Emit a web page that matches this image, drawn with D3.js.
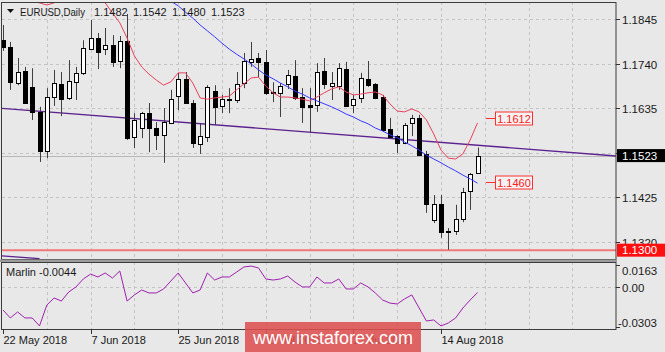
<!DOCTYPE html>
<html>
<head>
<meta charset="utf-8">
<script src="https://cdn.jsdelivr.net/npm/d3@7"></script>
<style>
  body { margin: 0; background: #e8e8e8; }
  svg { display: block; font-family: "Liberation Sans", Arial, sans-serif; }
</style>
</head>
<body>
<svg id="chart" width="665" height="352"></svg>
<script>
// EURUSD daily, 22 May 2018 .. 21 Aug 2018 (66 bars)
const opens  = [1.1795,1.1779,1.1694,1.1722,1.1685,1.1626,1.1534,1.1661,1.1692,1.1659,
                1.1696,1.1718,1.1774,1.1800,1.1774,1.1784,1.1746,1.1793,1.1567,1.1588,
                1.1623,1.1588,1.1572,1.1600,1.1663,1.1704,1.1647,1.1550,1.1567,1.1675,
                1.1640,1.1656,1.1654,1.1694,1.1744,1.1753,1.1744,1.1673,1.1671,1.1692,
                1.1711,1.1661,1.1642,1.1642,1.1722,1.1687,1.1687,1.1727,1.1642,1.1659,
                1.1704,1.1692,1.1661,1.1586,1.1569,1.1553,1.1600,1.1612,1.1527,1.1371,
                1.1409,1.1343,1.1345,1.1374,1.1440,1.1482];
const highs  = [1.1831,1.1791,1.1753,1.1732,1.1729,1.1638,1.1682,1.1725,1.1720,1.1748,
                1.1732,1.1795,1.1843,1.1812,1.1824,1.1807,1.1805,1.1857,1.1623,1.1626,
                1.1647,1.1602,1.1635,1.1678,1.1718,1.1720,1.1654,1.1600,1.1689,1.1689,
                1.1666,1.1682,1.1720,1.1765,1.1791,1.1765,1.1772,1.1696,1.1694,1.1725,
                1.1748,1.1682,1.1682,1.1741,1.1753,1.1720,1.1741,1.1744,1.1666,1.1718,
                1.1746,1.1694,1.1666,1.1612,1.1571,1.1600,1.1619,1.1619,1.1534,1.1430,
                1.1430,1.1352,1.1407,1.1447,1.1482,1.1542];
const lows   = [1.1770,1.1678,1.1689,1.1645,1.1607,1.1508,1.1517,1.1640,1.1616,1.1654,
                1.1654,1.1713,1.1772,1.1727,1.1760,1.1732,1.1729,1.1560,1.1541,1.1564,
                1.1531,1.1536,1.1506,1.1598,1.1630,1.1645,1.1541,1.1527,1.1555,1.1595,
                1.1623,1.1623,1.1647,1.1682,1.1732,1.1708,1.1666,1.1649,1.1614,1.1680,
                1.1654,1.1600,1.1576,1.1626,1.1680,1.1654,1.1678,1.1638,1.1623,1.1647,
                1.1685,1.1656,1.1581,1.1564,1.1529,1.1550,1.1569,1.1522,1.1388,1.1364,
                1.1329,1.1301,1.1336,1.1366,1.1395,1.1480];
const closes = [1.1779,1.1696,1.1720,1.1647,1.1626,1.1534,1.1661,1.1694,1.1656,1.1699,
                1.1718,1.1777,1.1800,1.1767,1.1784,1.1744,1.1793,1.1564,1.1607,1.1623,
                1.1588,1.1572,1.1602,1.1656,1.1704,1.1647,1.1553,1.1569,1.1685,1.1638,
                1.1656,1.1657,1.1692,1.1746,1.1751,1.1744,1.1671,1.1672,1.1687,1.1713,
                1.1659,1.1638,1.1638,1.1720,1.1692,1.1694,1.1729,1.1640,1.1656,1.1706,
                1.1689,1.1659,1.1583,1.1567,1.1553,1.1595,1.1612,1.1524,1.1409,1.1409,
                1.1343,1.1345,1.1374,1.1437,1.1480,1.1523];

// red moving average (partly above the visible range at the start)
const redMA = [1.1918,1.1913,1.1904,1.1895,1.1887,1.1883,1.1878,1.1883,1.1895,1.1904,
               1.1911,1.1913,1.1909,1.1897,1.1883,1.1859,1.1836,1.1800,1.1758,1.1732,
               1.1715,1.1701,1.1689,1.1697,1.1718,1.1718,1.1694,1.1659,1.1656,1.1659,
               1.1661,1.1663,1.1678,1.1692,1.1706,1.1708,1.1687,1.1671,1.1661,1.1661,
               1.1659,1.1656,1.1652,1.1661,1.1671,1.1680,1.1685,1.1673,1.1666,1.1668,
               1.1671,1.1673,1.1666,1.1645,1.1628,1.1626,1.1633,1.1626,1.1607,1.1574,
               1.1536,1.1517,1.1515,1.1527,1.1560,1.1600];
// blue moving average, starts at bar 20
const blueStart = 20;
const blueMA = [1.1930,1.1916,1.1902,1.1887,1.1876,1.1861,1.1847,1.1831,1.1817,1.1803,
                1.1788,1.1774,1.1762,1.1751,1.1739,1.1725,1.1713,1.1704,1.1694,1.1685,
                1.1675,1.1668,1.1659,1.1652,1.1645,1.1638,1.1630,1.1621,1.1614,1.1605,
                1.1598,1.1588,1.1581,1.1572,1.1565,1.1555,1.1546,1.1536,1.1524,1.1515,
                1.1506,1.1496,1.1487,1.1477,1.1468,1.1458];
// Marlin oscillator
const marlin = [-0.0175,-0.0235,-0.0190,-0.0235,-0.0235,-0.0295,-0.0138,-0.0085,-0.0108,-0.0040,
                -0.0002,0.0058,0.0095,0.0073,0.0103,0.0065,0.0118,-0.0108,-0.0062,-0.0025,
                -0.0047,-0.0047,-0.0017,0.0043,0.0103,0.0028,-0.0047,-0.0025,0.0103,0.0050,
                0.0073,0.0073,0.0110,0.0148,0.0155,0.0141,0.0058,0.0050,0.0058,0.0080,
                0.0035,-0.0002,-0.0002,0.0073,0.0028,0.0028,0.0058,-0.0017,-0.0017,0.0028,
                -0.0002,-0.0047,-0.0100,-0.0123,-0.0130,-0.0092,-0.0062,-0.0160,-0.0258,-0.0250,
                -0.0295,-0.0273,-0.0235,-0.0160,-0.0100,-0.0044];

// trend lines: [bar, price] pairs
const trendMain = [[-0.5, 1.1635], [84, 1.1522]];
const trendLow  = [[-0.5, 1.1287], [5, 1.1280]];
const supportLevel = 1.1300;
const lastPrice = 1.1523;
const targetUp = 1.1612, targetDown = 1.1460;

const priceTicks = [1.1845, 1.1740, 1.1635, 1.1530, 1.1425, 1.1320];
const hiddenTick = 1.1530;   // covered by the last-price tag in the original
const oscTicks = [0.0163, 0, -0.0303];
const oscTickLabels = ["0.0163", "0.00", "-0.0303"];
const dateBars = [0, 12, 24, 36, 48, 60];
const dateLabels = ["22 May 2018", "7 Jun 2018", "25 Jun 2018", "11 Jul 2018", "27 Jul 2018", "14 Aug 2018"];
const headerVals = ["1.1482", "1.1542", "1.1480", "1.1523"];

// layout
const W = 665, H = 352;
const axisX = 616;
const main = { top: 2, bottom: 259 };
const osc = { top: 262, bottom: 329 };

const svg = d3.select("#chart");

const x = d3.scaleLinear().domain([0, 65]).range([3, 477.5]);
const y = d3.scaleLinear().domain([1.1320, 1.1845]).range([241.7, 19]);
const yo = d3.scaleLinear().domain([-0.0303, 0.0163]).range([327, 265]);
const px = v => Math.round(v) + 0.5;

svg.append("rect").attr("width", W).attr("height", H).attr("fill", "#e8e8e8");

const defs = svg.append("defs");
defs.append("clipPath").attr("id", "clipMain")
  .append("rect").attr("x", 2).attr("y", main.top).attr("width", axisX - 2).attr("height", main.bottom - main.top);
defs.append("clipPath").attr("id", "clipOsc")
  .append("rect").attr("x", 2).attr("y", osc.top).attr("width", axisX - 2).attr("height", osc.bottom - osc.top);

// grid
const grid = svg.append("g").attr("stroke", "#c4c4c4").attr("stroke-dasharray", "3,3").attr("stroke-width", 1);
d3.range(0, 96, 6).map(x).filter(v => v < axisX && v > 4).forEach(v => {
  grid.append("line").attr("x1", px(v)).attr("x2", px(v)).attr("y1", main.top).attr("y2", main.bottom);
  grid.append("line").attr("x1", px(v)).attr("x2", px(v)).attr("y1", osc.top).attr("y2", osc.bottom);
});
priceTicks.forEach(p => {
  grid.append("line").attr("x1", 2).attr("x2", axisX).attr("y1", px(y(p))).attr("y2", px(y(p)));
});
grid.append("line").attr("x1", 2).attr("x2", axisX).attr("y1", px(yo(0))).attr("y2", px(yo(0)));

// main panel content
const gMain = svg.append("g").attr("clip-path", "url(#clipMain)");

// bid line
gMain.append("line").attr("x1", 2).attr("x2", axisX)
  .attr("y1", px(y(lastPrice))).attr("y2", px(y(lastPrice)))
  .attr("stroke", "#b8b8b8").attr("stroke-width", 1);

// support line
gMain.append("line").attr("x1", 2).attr("x2", axisX)
  .attr("y1", y(supportLevel)).attr("y2", y(supportLevel))
  .attr("stroke", "#f07878").attr("stroke-width", 2);

// trend lines
const trendLine = d3.line().x(d => x(d[0])).y(d => y(d[1]));
gMain.append("path").attr("d", trendLine(trendMain)).attr("fill", "none")
  .attr("stroke", "#5c2290").attr("stroke-width", 1.3);
gMain.append("path").attr("d", trendLine(trendLow)).attr("fill", "none")
  .attr("stroke", "#5c2290").attr("stroke-width", 1.3);

// candles
const bars = opens.map((o, i) => ({ i, o, h: highs[i], l: lows[i], c: closes[i] }));
const candle = gMain.append("g").selectAll("g").data(bars).join("g");
candle.append("line")
  .attr("x1", d => px(x(d.i))).attr("x2", d => px(x(d.i)))
  .attr("y1", d => y(d.h)).attr("y2", d => y(d.l))
  .attr("stroke", "#404040").attr("stroke-width", 1);
candle.append("rect")
  .attr("x", d => Math.round(x(d.i)) - 1.5)
  .attr("width", 4)
  .attr("y", d => Math.round(y(Math.max(d.o, d.c))) + 0.5)
  .attr("height", d => Math.max(1, Math.round(Math.abs(y(d.o) - y(d.c)))))
  .attr("fill", d => d.c >= d.o ? "#ffffff" : "#000000")
  .attr("stroke", "#000").attr("stroke-width", 1);

// moving averages
const maLine = d3.line().defined(d => d[1] != null).x(d => x(d[0])).y(d => y(d[1]));
gMain.append("path").attr("d", maLine(redMA.map((v, i) => [i, v]))).attr("fill", "none")
  .attr("stroke", "#e8405c").attr("stroke-width", 1);
gMain.append("path").attr("d", maLine(blueMA.map((v, i) => [i + blueStart, v]))).attr("fill", "none")
  .attr("stroke", "#3838ff").attr("stroke-width", 1);

// target labels
[targetUp, targetDown].forEach(p => {
  const yy = Math.round(y(p)) + 0.5;
  gMain.append("line").attr("x1", 486).attr("x2", 495).attr("y1", yy).attr("y2", yy)
    .attr("stroke", "#ff3030").attr("stroke-width", 1);
  gMain.append("rect").attr("x", 495.5).attr("y", yy - 6.5).attr("width", 37).attr("height", 13)
    .attr("fill", "#f2f2f2").attr("stroke", "#ff3030");
  gMain.append("text").attr("x", 514).attr("y", yy + 4).attr("text-anchor", "middle")
    .attr("font-size", 11).attr("fill", "#ff2020").text(p.toFixed(4));
});

// oscillator
const gOsc = svg.append("g").attr("clip-path", "url(#clipOsc)");
gOsc.append("path")
  .attr("d", d3.line().x((d, i) => x(i)).y(d => yo(d))(marlin))
  .attr("fill", "none").attr("stroke", "#a020b0").attr("stroke-width", 1);

// frames
svg.append("rect").attr("x", 1.5).attr("y", main.top + 0.5).attr("width", axisX - 1.5).attr("height", main.bottom - main.top)
  .attr("fill", "none").attr("stroke", "#3c3c3c");
svg.append("rect").attr("x", 0).attr("y", main.bottom + 0.5).attr("width", axisX + 1).attr("height", osc.top - main.bottom - 0.5)
  .attr("fill", "#9c9c9c");
svg.append("rect").attr("x", 1.5).attr("y", osc.top + 0.5).attr("width", axisX - 1.5).attr("height", osc.bottom - osc.top)
  .attr("fill", "none").attr("stroke", "#3c3c3c");

// right price axis
const axisG = svg.append("g").attr("font-size", 11.5).attr("fill", "#1a1a1a");
priceTicks.forEach(p => {
  const yy = Math.round(y(p)) + 0.5;
  axisG.append("line").attr("x1", axisX).attr("x2", axisX + 4).attr("y1", yy).attr("y2", yy).attr("stroke", "#333");
  if (p !== hiddenTick) axisG.append("text").attr("x", 622).attr("y", yy + 4).text(p.toFixed(4));
});
oscTicks.forEach((v, k) => {
  const yy = Math.round(yo(v)) + 0.5;
  axisG.append("line").attr("x1", axisX).attr("x2", axisX + 4).attr("y1", yy).attr("y2", yy).attr("stroke", "#333");
  const ty = Math.min(Math.max(yy, 270.5), 322.5);
  axisG.append("text").attr("x", k === 2 ? 618 : 622).attr("y", ty + 4).text(oscTickLabels[k]);
});

// price tags on axis
function priceTag(p, bg) {
  const yy = y(p);
  svg.append("rect").attr("x", axisX + 1).attr("y", yy - 6.5).attr("width", W - axisX - 1).attr("height", 13).attr("fill", bg);
  svg.append("text").attr("x", 622).attr("y", yy + 4).attr("font-size", 11.5).attr("fill", "#fff").text(p.toFixed(4));
}
priceTag(lastPrice, "#000");
priceTag(supportLevel, "#ff1010");

// time axis
const timeG = svg.append("g").attr("font-size", 11).attr("fill", "#1a1a1a");
dateBars.forEach((b, k) => {
  const xx = px(x(b));
  timeG.append("line").attr("x1", xx).attr("x2", xx).attr("y1", osc.bottom).attr("y2", osc.bottom + 5).attr("stroke", "#333");
  timeG.append("text").attr("x", xx).attr("y", 344).text(dateLabels[k]);
});

// header
svg.append("path").attr("d", "M7,9L14,9L10.5,13Z").attr("fill", "#111");
svg.append("text").attr("x", 20).attr("y", 16).attr("font-size", 11).attr("fill", "#1a1a1a")
  .attr("textLength", 65).attr("lengthAdjust", "spacingAndGlyphs").text("EURUSD,Daily");
headerVals.forEach((t, k) => {
  svg.append("text").attr("x", 94 + k * 39).attr("y", 16).attr("font-size", 11).attr("fill", "#1a1a1a").text(t);
});
svg.append("text").attr("x", 6).attr("y", 276).attr("font-size", 11).attr("fill", "#1a1a1a")
  .text("Marlin " + marlin[marlin.length - 1].toFixed(4));

// watermark (date labels show faintly through it, as in the original)
svg.append("rect").attr("x", 245).attr("y", 322).attr("width", 176).attr("height", 30)
  .attr("fill", "#dd5050").attr("opacity", 0.88);
svg.append("text").attr("x", 333).attr("y", 344).attr("text-anchor", "middle")
  .attr("font-size", 18).attr("fill", "#fff").text("www.instaforex.com");
</script>
</body>
</html>
